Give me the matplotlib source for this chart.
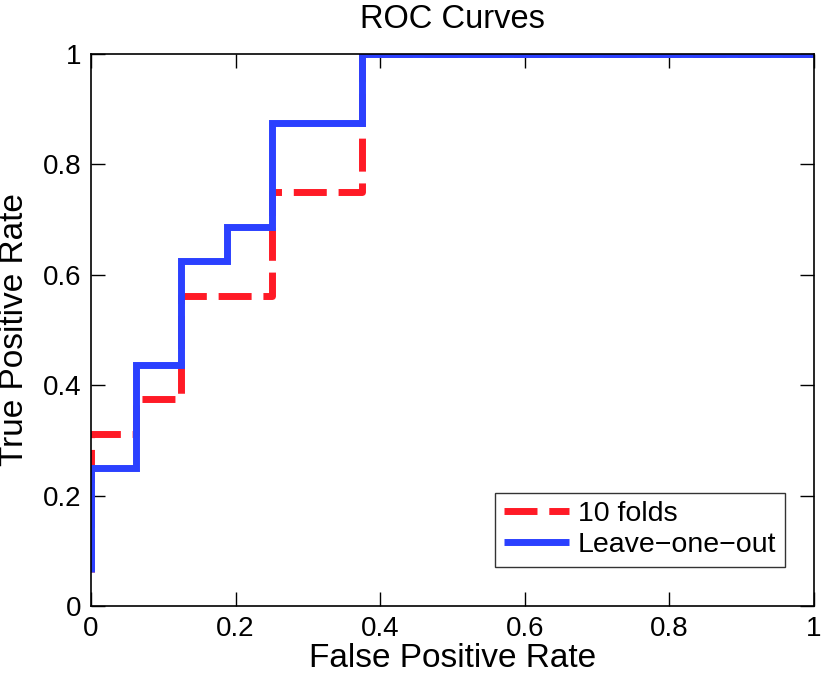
import matplotlib
matplotlib.use("Agg")
import matplotlib.pyplot as plt

plt.rcParams['font.family'] = ['Liberation Sans', 'DejaVu Sans']

# Data (ROC steps)
fpr_10fold = [0, 0, 0.0625, 0.0625, 0.125, 0.125, 0.25, 0.25, 0.375, 0.375, 1.0]
tpr_10fold = [0.0625, 0.3125, 0.3125, 0.375, 0.375, 0.5625, 0.5625, 0.75, 0.75, 1.0, 1.0]

fpr_loo = [0, 0, 0.0625, 0.0625, 0.125, 0.125, 0.1875, 0.1875, 0.25, 0.25, 0.375, 0.375, 1.0]
tpr_loo = [0.0625, 0.25, 0.25, 0.4375, 0.4375, 0.625, 0.625, 0.6875, 0.6875, 0.875, 0.875, 1.0, 1.0]

xticks = [0, 0.2, 0.4, 0.6, 0.8, 1]
yticks = [0, 0.2, 0.4, 0.6, 0.8, 1]
xtick_labels = ['0', '0.2', '0.4', '0.6', '0.8', '1']
ytick_labels = ['0', '0.2', '0.4', '0.6', '0.8', '1']

fig = plt.figure(figsize=(8.22, 6.79), dpi=100)
ax = fig.add_axes([91/822, 73/679, 723/822, 552/679])

red = '#FF1A26'
blue = '#2B40FF'
ax.plot(fpr_10fold, tpr_10fold, color=red, lw=5, dashes=(4.75, 1.7),
        solid_joinstyle='miter', dash_capstyle='butt', label='10 folds')
ax.plot(fpr_loo, tpr_loo, color=blue, lw=5, solid_joinstyle='miter',
        solid_capstyle='butt', label='Leave\u2212one\u2212out')

ax.set_xlim(0, 1)
ax.set_ylim(0, 1)
ax.set_xticks(xticks)
ax.set_xticklabels(xtick_labels)
ax.set_yticks(yticks)
ax.set_yticklabels(ytick_labels)
ax.tick_params(direction='in', length=10, width=1, labelsize=20,
               top=True, right=True, pad=7)
for s in ax.spines.values():
    s.set_linewidth(1.2)

ax.set_title('ROC Curves', fontsize=23.5, pad=19)
ax.set_xlabel('False Positive Rate', fontsize=24, labelpad=1)
ax.set_ylabel('True Positive Rate', fontsize=24, labelpad=9)

leg = ax.legend(loc='lower right', fontsize=20.5,
                frameon=True, fancybox=False, edgecolor='black',
                handlelength=2.3, handletextpad=0.3, borderpad=0.3,
                labelspacing=0.18, borderaxespad=0,
                bbox_to_anchor=((785-91)/723, (606-567)/552),
                bbox_transform=ax.transAxes)
leg.get_frame().set_linewidth(1.0)

fig.savefig('out.png', dpi=100)
